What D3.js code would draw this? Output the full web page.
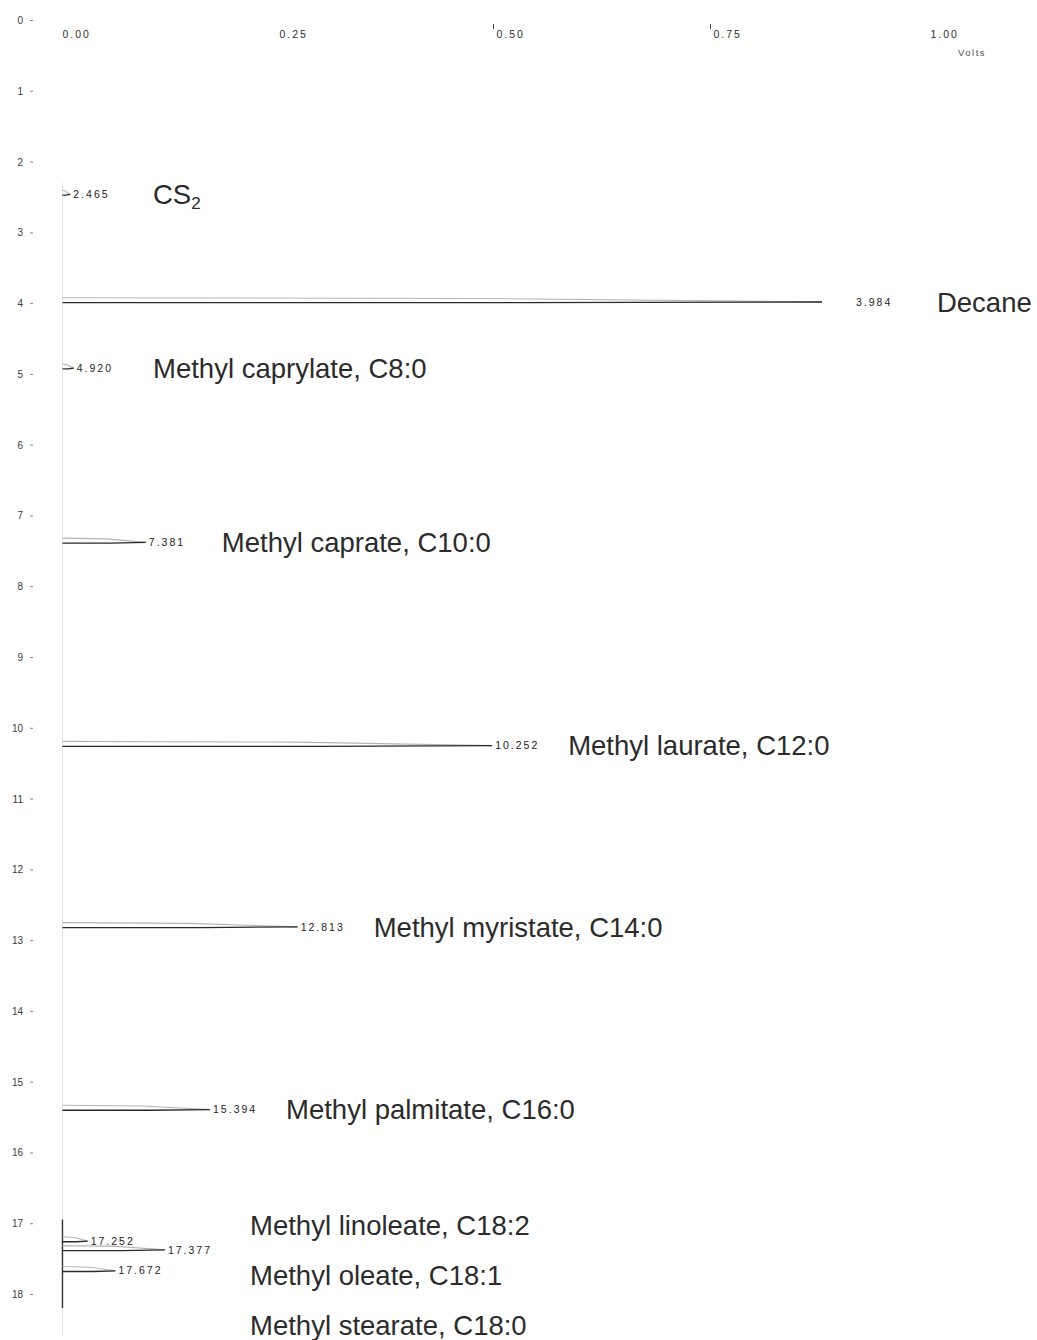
<!DOCTYPE html>
<html>
<head>
<meta charset="utf-8">
<script src="https://cdn.jsdelivr.net/npm/d3@7"></script>
<style>
  html, body { margin: 0; padding: 0; background: #fff; }
  svg { display: block; font-family: "Liberation Sans", Arial, sans-serif; }
</style>
</head>
<body>
<svg id="chart" width="1037" height="1340"></svg>
<script>
// Retention times (min), apex signal (V) and compound names of the FAME standard run
const peakTimes   = [2.465, 3.984, 4.920, 7.381, 10.252, 12.813, 15.394, 17.252, 17.377, 17.672];
const peakHeights = [0.013, 0.879, 0.017, 0.100, 0.499, 0.275, 0.174, 0.033, 0.122, 0.065];
const peakLabels  = ["2.465", "3.984", "4.920", "7.381", "10.252", "12.813", "15.394", "17.252", "17.377", "17.672"];
const compounds   = ["CS2", "Decane", "Methyl caprylate, C8:0", "Methyl caprate, C10:0",
                     "Methyl laurate, C12:0", "Methyl myristate, C14:0", "Methyl palmitate, C16:0"];
const c18Compounds = ["Methyl linoleate, C18:2", "Methyl oleate, C18:1", "Methyl stearate, C18:0"];

// Axis ticks
const timeTicks = d3.range(0, 19);
const voltTicks = [0, 0.25, 0.5, 0.75, 1.0];
const voltTickLabels = ["0.00", "0.25", "0.50", "0.75", "1.00"];
const baselineLevel = 0.004;

const svg = d3.select("#chart");

// time runs down the page, detector signal runs to the right
const y = d3.scaleLinear().domain([0, 18]).range([20, 1294]);
const x = d3.scaleLinear().domain([0, 1]).range([59, 927]);

// ---- vertical time axis ----
const yAxis = d3.axisLeft(y)
  .tickValues(timeTicks)
  .tickFormat(d3.format("d"))
  .tickSize(3)
  .tickPadding(7);
const gy = svg.append("g").attr("transform", "translate(33,0)").call(yAxis);
gy.select(".domain").remove();
gy.selectAll(".tick line").attr("stroke", "#888");
gy.selectAll(".tick text")
  .attr("fill", "#3a3a3a")
  .style("font-size", "10px")
  .attr("dy", "0.35em");

// ---- horizontal signal axis at the top ----
const xAxis = d3.axisBottom(x)
  .tickValues(voltTicks)
  .tickFormat((d, i) => voltTickLabels[i])
  .tickSize(0)
  .tickPadding(0);
const gx = svg.append("g").attr("transform", "translate(0,34)").call(xAxis);
gx.select(".domain").remove();
gx.selectAll(".tick text")
  .attr("text-anchor", "start")
  .attr("dx", "3")
  .attr("dy", "0.35em")
  .attr("fill", "#2e2e2e")
  .style("font-size", "10.5px")
  .style("letter-spacing", "2px");
gx.selectAll(".tick line").remove();
gx.selectAll(".tick").filter(d => d === 0.5 || d === 0.75)
  .append("line")
  .attr("x1", 0).attr("x2", 0).attr("y1", -10).attr("y2", -5)
  .attr("stroke", "#444").attr("stroke-width", 1);

svg.append("text")
  .attr("x", x(1.0) + 31).attr("y", 56)
  .attr("fill", "#555")
  .style("font-size", "9.5px")
  .style("letter-spacing", "1.5px")
  .text("Volts");

// ---- baseline of the trace ----
svg.append("line")
  .attr("x1", x(baselineLevel)).attr("x2", x(baselineLevel))
  .attr("y1", y(2.3)).attr("y2", y(18.6))
  .attr("stroke", "#e4e4e4").attr("stroke-width", 1);
svg.append("line")
  .attr("x1", x(baselineLevel)).attr("x2", x(baselineLevel))
  .attr("y1", y(16.95)).attr("y2", y(18.2))
  .attr("stroke", "#333").attr("stroke-width", 1.4);

// ---- peaks: a rise and a fall drawn out from the baseline ----
const peaks = peakTimes.map((t, i) => ({ t, h: peakHeights[i], label: peakLabels[i] }));

const riseLine = d3.line().x(d => x(d[0])).y(d => y(d[1]));

const gp = svg.append("g");
gp.selectAll("path.rise")
  .data(peaks).join("path")
  .attr("class", "rise")
  .attr("d", d => riseLine([[baselineLevel, d.t - 0.06], [d.h * 0.55, d.t - 0.05], [d.h, d.t]]))
  .attr("fill", "none")
  .attr("stroke", "#b5b5b5")
  .attr("stroke-width", 1.1);
gp.selectAll("path.fall")
  .data(peaks).join("path")
  .attr("class", "fall")
  .attr("d", d => riseLine([[baselineLevel, d.t + 0.01], [d.h * 0.6, d.t + 0.01], [d.h, d.t]]))
  .attr("fill", "none")
  .attr("stroke", "#2a2a2a")
  .attr("stroke-width", 1.3);

// retention time printed at each apex
gp.selectAll("text.rt")
  .data(peaks).join("text")
  .attr("class", "rt")
  .attr("x", d => x(d.h) + (d.h > 0.8 ? 34 : 3))
  .attr("y", d => y(d.t))
  .attr("dy", "0.35em")
  .attr("fill", "#222")
  .style("font-size", "10.5px")
  .style("letter-spacing", "2px")
  .text(d => d.label);

// ---- compound names ----
const nameX = d => Math.max(x(d.h) + 76, 153);
const named = peaks.slice(0, compounds.length).map((p, i) => ({ ...p, name: compounds[i] }));
const gn = svg.append("g")
  .attr("fill", "#2b2b2b")
  .style("font-size", "27.5px");

gn.selectAll("text.name")
  .data(named).join("text")
  .attr("class", "name")
  .attr("x", d => d.h > 0.8 ? x(d.h) + 115 : nameX(d))
  .attr("y", d => y(d.t))
  .attr("dy", "0.35em")
  .each(function (d) {
    const t = d3.select(this);
    if (d.name === "CS2") {
      t.append("tspan").text("CS");
      t.append("tspan").attr("dy", "0.3em").style("font-size", "17px").text("2");
    } else {
      t.text(d.name);
    }
  });

// the three C18 esters are listed as a stack beside their cluster
const c18Times = peakTimes.slice(compounds.length);
gn.selectAll("text.c18")
  .data(c18Compounds).join("text")
  .attr("class", "c18")
  .attr("x", 250)
  .attr("y", (d, i) => y(c18Times[0]) - 16 + i * 50)
  .attr("dy", "0.35em")
  .text(d => d);
</script>
</body>
</html>
